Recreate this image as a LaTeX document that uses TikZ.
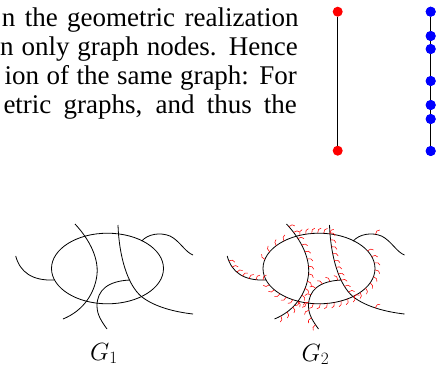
\documentclass[tikz,border=0pt]{standalone}
\usepackage[no-math]{fontspec}
\setmainfont{Liberation Serif}
\usetikzlibrary{decorations.markings}
\tikzset{
  crv/.style={line width=0.8pt,black},
  hairmark/.style={red,line width=0.55pt},
  hairL/.style={decoration={markings,mark=between positions #1 with {\draw[hairmark] (0pt,0pt) .. controls (0pt,3pt) and (1.2pt,5pt) .. (3.5pt,5pt);}},postaction={decorate}},
  hairR/.style={decoration={markings,mark=between positions #1 with {\draw[hairmark] (0pt,0pt) .. controls (0pt,-3pt) and (1.2pt,-5pt) .. (3.5pt,-5pt);}},postaction={decorate}},
  hairOneL/.style={decoration={markings,mark=at position #1 with {\draw[hairmark] (0pt,0pt) .. controls (0pt,3pt) and (1.2pt,5pt) .. (3.5pt,5pt);}},postaction={decorate}},
  dotR/.style={circle,fill=red,inner sep=0pt,minimum size=10pt},
  dotB/.style={circle,fill=blue,inner sep=0pt,minimum size=10pt},
  txt/.style={inner sep=0pt,anchor=base west,font=\fontsize{27}{29}\selectfont},
  lbl/.style={inner sep=0pt,anchor=base,font=\fontsize{24}{28}\selectfont},
}
\newcommand{\crvTa}{(15.7,256) .. controls (20,272) and (32,281) .. (54.5,280)}
\newcommand{\crvCb}{(75,224) .. controls (90,240) and (100,260) .. (96.5,278) .. controls (94,292) and (85,310) .. (63,319)}
\newcommand{\crvCcA}{(118,225) .. controls (119,255) and (127,285) .. (142,297)}
\newcommand{\crvCcB}{(142,297) .. controls (155,307) and (175,312) .. (193,314)}
\newcommand{\crvTd}{(141.7,241) .. controls (148,234) and (160,232) .. (170,236) .. controls (180,241) and (185,252) .. (193,255)}
\newcommand{\crvCe}{(130,280) .. controls (108,281) and (97,290) .. (97,306) .. controls (97,315) and (102,322) .. (107,329)}
\newcommand{\drawgraph}{%
  \draw[crv] (107.5,268.5) ellipse [x radius=56, y radius=35.3];
  \draw[crv] \crvTa;
  \draw[crv] \crvCb;
  \draw[crv] \crvCcA;
  \draw[crv] \crvCcB;
  \draw[crv] \crvTd;
  \draw[crv] \crvCe;
}
\begin{document}
\begin{tikzpicture}[x=1pt,y=-1pt]
\useasboundingbox (0,0) rectangle (436,372);
% text lines
\node[txt] (l1) at (1.7,26.7) {\makebox[296.6pt][s]{n the geometric realization}};
\node[txt] (l2) at (0,55.5) {\makebox[297.7pt][s]{n only graph nodes. Hence}};
\node[txt] (l3) at (4.5,84.3) {\makebox[292.2pt][s]{ion of the same graph: For}};
\node[txt] (l4) at (3.3,113) {\makebox[293.4pt][s]{etric graphs, and thus the}};
% red edge
\node[dotR] (r1) at (337.7,11.7) {};
\node[dotR] (r2) at (337.7,150.7) {};
\draw[crv] (r1) -- (r2);
% blue path
\foreach \i/\y in {1/11.7,2/36,3/49,4/81,5/105,6/119,7/151}
  \node[dotB] (b\i) at (430.7,\y) {};
\draw[crv] (b1) -- (b2) -- (b3) -- (b4) -- (b5) -- (b6) -- (b7);
\foreach \i in {1,...,7} \fill[blue] (b\i) circle (5pt);
% G1
\drawgraph
\node[lbl] (g1) at (104,360) {$G_1$};
% G2
\begin{scope}[xshift=211.5pt]
\drawgraph
\path[hairL={0.1 and 0.98 step 7pt}] \crvTa;
\path[hairL={0 and 1 step 7pt}] (156.0,250.85) arc[start angle=-30,end angle=161,x radius=56,y radius=35.3];
\path[hairL={0 and 1 step 9pt}] (53.4,259.4) arc[start angle=195,end angle=235,x radius=56,y radius=35.3];
\path[hairL={0 and 1 step 6pt}] (88.35,235.3) arc[start angle=250,end angle=281,x radius=56,y radius=35.3];
\path[hairL={0.03 and 1 step 7.5pt}] \crvCb;
\path[hairL={0.1 and 1 step 7pt}] \crvCcA;
\path[hairOneL=0.45] \crvCcB;
\path[hairOneL=0.4] \crvTd;
\path[hairR={0.05 and 0.95 step 8pt}] \crvCe;
\end{scope}
\node[lbl] (g2) at (315.5,361) {$G_2$};
\end{tikzpicture}
\end{document}
